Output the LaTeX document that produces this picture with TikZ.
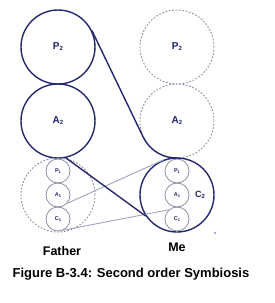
\documentclass[tikz,border=0pt]{standalone}
\usepackage{fontspec}
\setmainfont{Liberation Sans}
\usetikzlibrary{calc}

\definecolor{beltblue}{RGB}{36,40,112}
\definecolor{labelblue}{RGB}{30,34,105}
\definecolor{ghostgray}{RGB}{140,142,165}
\definecolor{linkgray}{RGB}{160,164,192}

\newcommand{\lowidx}[2]{\raisebox{-0.2ex}{\fontsize{#1}{#1}\selectfont #2}}

\tikzset{
  bigring/.style={circle, draw=beltblue, line width=1.4pt, minimum size=74pt, inner sep=0pt,
    text=labelblue, font=\bfseries\fontsize{10}{10}\selectfont},
  ghostring/.style={circle, draw=ghostgray, dash pattern=on 1.7pt off 1.7pt, line width=0.9pt,
    minimum size=74pt, inner sep=0pt, text=labelblue, font=\bfseries\fontsize{10}{10}\selectfont},
  smallring/.style={circle, draw=ghostgray, line width=0.8pt, minimum size=24pt, inner sep=0pt,
    text=labelblue, font=\bfseries\fontsize{5.5}{5.5}\selectfont},
  belt/.style={draw=beltblue, line width=1.4pt},
  link/.style={draw=linkgray, line width=0.9pt},
  caption/.style={font=\bfseries\fontsize{12.5}{12.5}\selectfont, anchor=base}
}

\begin{document}
\begin{tikzpicture}[x=1pt,y=1pt]
    \useasboundingbox (0,0) rectangle (274,-303);

    % Father
    \node[bigring] (p2L) at (58,-47) {P\lowidx{6}{2}};
    \node[bigring] (a2L) at (58,-121) {A\lowidx{6}{2}};
    \node[ghostring] (c2L) at (58,-195) {};
    \node[smallring] (p1L) at (58,-171) {P\lowidx{4}{1}};
    \node[smallring] (a1L) at (58,-195) {A\lowidx{4}{1}};
    \node[smallring] (c1L) at (58,-219) {C\lowidx{4}{1}};

    % Me
    \node[ghostring] (p2R) at (177,-47) {P\lowidx{6}{2}};
    \node[ghostring] (a2R) at (177,-121) {A\lowidx{6}{2}};
    \node[bigring] (c2R) at (177,-195) {};
    \node[smallring] (p1R) at (177,-171) {P\lowidx{4}{1}};
    \node[smallring] (a1R) at (177,-195) {A\lowidx{4}{1}};
    \node[smallring] (c1R) at (177,-219) {C\lowidx{4}{1}};
    \node[text=labelblue, font=\bfseries\fontsize{9}{9}\selectfont] (c2txt) at (200,-195) {C\lowidx{6}{2}};

    % Links from Father to Me
    \draw[link] (a1L.-42) -- (c2R.110);
    \draw[link] (c1L.-65) -- (c1R.132);

    % Belt
    \draw[belt] (p2L.26.25) -- (a2R.206.25)
      arc[start angle=206.25, end angle=272, radius=37pt];
    \draw[belt] (a2L.-78) -- (c2R.214);

    % Names
    \node[caption] (father) at (62,-255) {Father};
    \node[caption] (me) at (177,-251) {Me};
    \node[caption, font=\bfseries\fontsize{13}{13}\selectfont] (title) at (131,-277)
      {Figure B-3.4: Second order Symbiosis};

    \fill[blue!70] (215,-233) circle (0.8);
\end{tikzpicture}
\end{document}
